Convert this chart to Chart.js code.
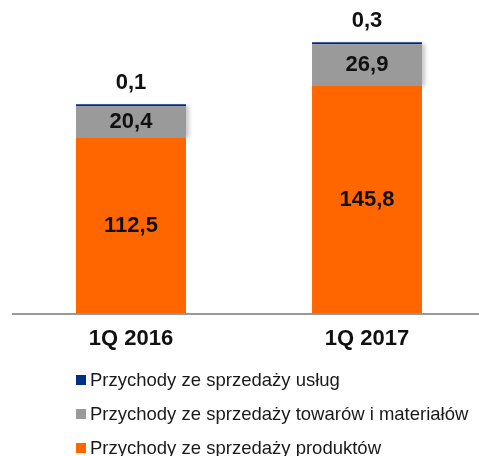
<!DOCTYPE html>
<html>
<head>
<meta charset="utf-8">
<script src="https://cdn.jsdelivr.net/npm/chart.js@4.4.1/dist/chart.umd.min.js"></script>
<style>
body{margin:0;background:#fff;overflow:hidden}
#wrap{position:relative;width:479px;height:456px;overflow:hidden}
#chart{position:absolute;left:0;top:0}
#legend{position:absolute;left:76px;top:369px;font-family:"Liberation Sans",Arial,sans-serif;font-size:18.5px;color:#1a1a1a}
.row{position:relative;height:21px;line-height:21px;white-space:nowrap;padding-left:14px}
.sq{position:absolute;left:0;top:6px;width:10px;height:10px}
</style>
</head>
<body>
<div id="wrap">
<canvas id="chart" width="485" height="373"></canvas>
<div id="legend"></div>
</div>
<script>
let categories=["1Q 2016","1Q 2017"]
let produkty=[112.5,145.8]
let towary=[20.4,26.9]
let uslugi=[0.1,0.3]

let names=["Przychody ze sprzedaży produktów","Przychody ze sprzedaży towarów i materiałów","Przychody ze sprzedaży usług"]
let colors=["#ff6600","#9a9a9a","#002f87"]

let font="'Liberation Sans', Arial, sans-serif"

function fmt(v){
return v.toFixed(1).replace(".",",")
}

// soft shadow on the grey part, like the original
let greyShadow={
id:"greyShadow",
beforeDatasetDraw(chart,args){
if(args.index!==1) return
let ctx=chart.ctx
ctx.save()
ctx.shadowColor="rgba(0,0,0,0.22)"
ctx.shadowBlur=4
ctx.shadowOffsetX=3
ctx.shadowOffsetY=0
},
afterDatasetDraw(chart,args){
if(args.index!==1) return
chart.ctx.restore()
}
}

let valueLabels={
id:"valueLabels",
afterDatasetsDraw(chart){
let ctx=chart.ctx
ctx.save()
ctx.font="bold 22px "+font
ctx.fillStyle="#111"
ctx.textAlign="center"
ctx.textBaseline="middle"
chart.data.datasets.forEach((ds,i)=>{
let meta=chart.getDatasetMeta(i)
meta.data.forEach((bar,j)=>{
let y
if(i===2){
y=bar.y-21
}
else{
y=(bar.y+bar.base)/2
}
ctx.fillText(fmt(ds.data[j]),bar.x,y)
})
})
ctx.restore()
}
}

let chart=new Chart(document.getElementById("chart"),{
type:"bar",
data:{
labels:categories,
datasets:[
{label:names[0],data:produkty,backgroundColor:colors[0]},
{label:names[1],data:towary,backgroundColor:colors[1]},
{label:names[2],data:uslugi,backgroundColor:colors[2],minBarLength:2}
]
},
options:{
responsive:false,
animation:false,
layout:{padding:{left:13,right:0,top:0,bottom:9}},
datasets:{bar:{barPercentage:0.466,categoryPercentage:1}},
plugins:{legend:{display:false},tooltip:{enabled:false}},
scales:{
x:{
stacked:true,
grid:{display:false,drawTicks:false},
border:{display:true,color:"#999",width:2},
ticks:{padding:12,color:"#111",font:{family:font,size:22,weight:"bold"}}
},
y:{
stacked:true,
display:false,
min:0,
max:201
}
}
},
plugins:[greyShadow,valueLabels]
})

let leg=document.getElementById("legend")
for(let i=names.length-1;i>=0;i--){
let row=document.createElement("div")
row.className="row"
row.style.marginBottom=(i>0?13:0)+"px"
row.innerHTML='<span class="sq" style="background:'+colors[i]+'"></span>'+names[i]
leg.appendChild(row)
}
</script>
</body>
</html>
